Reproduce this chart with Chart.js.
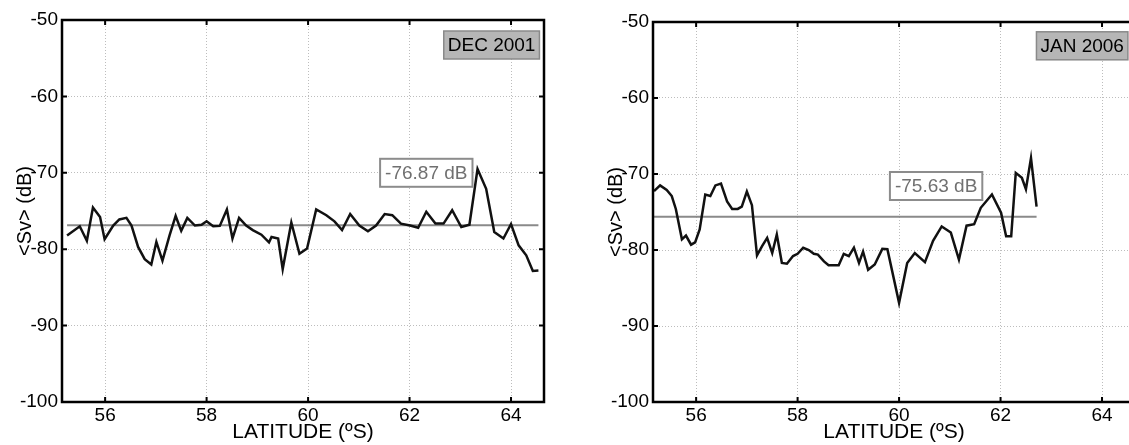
<!DOCTYPE html>
<html>
<head>
<meta charset="utf-8">
<script src="https://cdn.jsdelivr.net/npm/chart.js@4.4.1/dist/chart.umd.min.js"></script>
<style>
  html, body { margin: 0; padding: 0; background: #fff; overflow: hidden; width: 1129px; height: 445px; }
  .panel { position: absolute; top: 0; width: 560px; height: 445px; }
  #dec-wrap { left: 0; }
  #jan-wrap { left: 591px; }
</style>
</head>
<body>
<div class="panel" id="dec-wrap"><canvas id="dec-chart" width="560" height="445"></canvas></div>
<div class="panel" id="jan-wrap"><canvas id="jan-chart" width="560" height="445"></canvas></div>
<script>
const FONT = "'Liberation Sans', Arial, sans-serif";

const xTicks = [56, 58, 60, 62, 64];
const yTicks = [-100, -90, -80, -70, -60, -50];

// DEC 2001 transect
const decLat = [55.25, 55.50, 55.64, 55.76, 55.90, 55.99, 56.16, 56.28, 56.42, 56.52, 56.65, 56.78, 56.91, 57.01, 57.13, 57.27, 57.39, 57.50, 57.62, 57.77, 57.90, 58.00, 58.13, 58.26, 58.40, 58.51, 58.64, 58.78, 58.91, 59.08, 59.23, 59.28, 59.41, 59.50, 59.67, 59.83, 59.98, 60.16, 60.36, 60.52, 60.67, 60.83, 61.01, 61.18, 61.34, 61.51, 61.66, 61.83, 62.01, 62.17, 62.33, 62.51, 62.67, 62.84, 63.02, 63.18, 63.34, 63.51, 63.67, 63.85, 64.00, 64.15, 64.30, 64.43, 64.54];
const decSv = [-78.2, -77.0, -78.9, -74.55, -75.8, -78.7, -76.9, -76.1, -75.9, -76.9, -79.7, -81.3, -82.0, -79.05, -81.5, -78.2, -75.65, -77.6, -75.9, -76.9, -76.8, -76.35, -77.0, -76.95, -74.8, -78.6, -75.9, -76.9, -77.5, -78.1, -79.1, -78.4, -78.6, -82.6, -76.5, -80.6, -79.9, -74.8, -75.55, -76.35, -77.5, -75.4, -76.9, -77.65, -76.9, -75.4, -75.55, -76.65, -76.9, -77.2, -75.1, -76.65, -76.65, -74.9, -77.1, -76.8, -69.5, -72.1, -77.75, -78.6, -76.7, -79.5, -80.8, -82.85, -82.8];
const decMean = -76.87;

// JAN 2006 transect
const janLat = [55.17, 55.29, 55.42, 55.52, 55.60, 55.72, 55.80, 55.90, 55.98, 56.07, 56.18, 56.28, 56.38, 56.49, 56.61, 56.71, 56.82, 56.90, 57.00, 57.10, 57.20, 57.30, 57.40, 57.50, 57.59, 57.69, 57.79, 57.91, 58.00, 58.11, 58.22, 58.32, 58.40, 58.52, 58.61, 58.81, 58.91, 59.01, 59.11, 59.21, 59.29, 59.39, 59.52, 59.67, 59.77, 60.00, 60.16, 60.31, 60.51, 60.67, 60.84, 61.02, 61.18, 61.33, 61.48, 61.61, 61.83, 62.01, 62.11, 62.21, 62.30, 62.42, 62.50, 62.60, 62.71];
const janSv = [-72.26, -71.5, -72.1, -72.9, -74.6, -78.6, -78.1, -79.3, -79.0, -77.3, -72.7, -72.9, -71.5, -71.25, -73.6, -74.6, -74.6, -74.3, -72.3, -74.1, -80.7, -79.5, -78.4, -80.4, -77.96, -81.7, -81.8, -80.8, -80.5, -79.7, -80.0, -80.5, -80.6, -81.5, -82.0, -82.0, -80.5, -80.8, -79.7, -81.7, -80.2, -82.6, -81.9, -79.85, -79.9, -86.95, -81.7, -80.4, -81.6, -78.8, -76.9, -77.7, -81.25, -76.8, -76.6, -74.45, -72.7, -75.1, -78.2, -78.2, -69.85, -70.5, -72.0, -67.9, -74.3];
const janMean = -75.63;

// boxed texts, ticks pointing inward and the frame, like a matlab axes
const matlabBox = {
  id: "matlabBox",
  afterDatasetsDraw(chart, args, opts) {
    const { ctx, chartArea: a, scales: { x, y } } = chart;
    ctx.save();
    ctx.strokeStyle = "#000";
    ctx.lineWidth = 2;
    ctx.beginPath();
    x.ticks.forEach((t) => {
      const px = x.getPixelForValue(t.value);
      ctx.moveTo(px, a.bottom); ctx.lineTo(px, a.bottom - 5);
      ctx.moveTo(px, a.top); ctx.lineTo(px, a.top + 5);
    });
    y.ticks.forEach((t) => {
      const py = y.getPixelForValue(t.value);
      ctx.moveTo(a.left, py); ctx.lineTo(a.left + 5, py);
      ctx.moveTo(a.right, py); ctx.lineTo(a.right - 5, py);
    });
    ctx.stroke();
    ctx.lineWidth = 2.5;
    ctx.strokeRect(a.left, a.top, a.width, a.height);

    ctx.font = "19px " + FONT;
    ctx.textBaseline = "middle";
    ctx.textAlign = "center";

    // mean value label
    const m = opts.mean;
    const mw = ctx.measureText(m.text).width + 10;
    const mx = x.getPixelForValue(m.x), my = y.getPixelForValue(m.y);
    ctx.fillStyle = "#fff";
    ctx.fillRect(mx - mw / 2, my - 14, mw, 28);
    ctx.strokeStyle = "#8c8c8c";
    ctx.lineWidth = 2;
    ctx.strokeRect(mx - mw / 2, my - 14, mw, 28);
    ctx.fillStyle = "#707070";
    ctx.fillText(m.text, mx, my + 1);

    // survey label
    const t = opts.title;
    const tw = ctx.measureText(t.text).width + 8;
    const tr = x.getPixelForValue(t.x), tt = y.getPixelForValue(t.y);
    ctx.fillStyle = "#b6b6b6";
    ctx.fillRect(tr - tw, tt, tw, 28);
    ctx.strokeStyle = "#8a8a8a";
    ctx.lineWidth = 1.5;
    ctx.strokeRect(tr - tw, tt, tw, 28);
    ctx.fillStyle = "#000";
    ctx.fillText(t.text, tr - tw / 2, tt + 15);
    ctx.restore();
  },
};

const makeChart = (id, lat, sv, mean, meanLabel, title, padTop) => {
  const ctx = document.getElementById(id);
  const line = lat.map((v, i) => ({ x: v, y: sv[i] }));
  const meanLine = [{ x: lat[0], y: mean }, { x: lat[lat.length - 1], y: mean }];

  new Chart(ctx, {
    type: "line",
    data: {
      datasets: [
        {
          data: line,
          borderColor: "#111",
          borderWidth: 2.5,
          pointRadius: 0,
          tension: 0,
        },
        {
          data: meanLine,
          borderColor: "#8a8a8a",
          borderWidth: 2,
          pointRadius: 0,
        },
      ],
    },
    options: {
      responsive: false,
      animation: false,
      layout: { padding: { top: padTop, right: 16, left: 0, bottom: 0 } },
      plugins: {
        legend: { display: false },
        tooltip: { enabled: false },
        matlabBox: {
          mean: { text: meanLabel.text, x: meanLabel.x, y: meanLabel.y },
          title: { text: title.text, x: title.x, y: title.y },
        },
      },
      scales: {
        x: {
          type: "linear",
          min: 55.15,
          max: 64.65,
          afterBuildTicks: (s) => { s.ticks = xTicks.map((v) => ({ value: v })); },
          afterFit: (s) => { s.height = 43; },
          grid: { color: "#bdbdbd", drawTicks: false },
          border: { display: false, dash: [1, 2] },
          ticks: { color: "#000", font: { size: 19, family: FONT }, padding: 2, maxRotation: 0 },
          title: {
            display: true,
            text: "LATITUDE (ºS)",
            color: "#000",
            font: { size: 21, family: FONT },
            padding: { top: 0, bottom: 0 },
          },
        },
        y: {
          min: -100,
          max: -50,
          afterBuildTicks: (s) => { s.ticks = yTicks.map((v) => ({ value: v })); },
          afterFit: (s) => { s.width = 62; },
          grid: { color: "#bdbdbd", drawTicks: false },
          border: { display: false, dash: [1, 2] },
          ticks: { color: "#000", font: { size: 19, family: FONT }, padding: 4 },
          title: {
            display: true,
            text: "<Sv> (dB)",
            color: "#000",
            font: { size: 20, family: FONT },
            padding: { top: 13, bottom: 0 },
          },
        },
      },
    },
    plugins: [matlabBox],
  });
};

makeChart("dec-chart", decLat, decSv, decMean,
  { text: "-76.87 dB", x: 62.33, y: -70.0 },
  { text: "DEC 2001", x: 64.56, y: -51.44 }, 20);
makeChart("jan-chart", janLat, janSv, janMean,
  { text: "-75.63 dB", x: 60.73, y: -71.58 },
  { text: "JAN 2006", x: 64.51, y: -51.29 }, 22);
</script>
</body>
</html>
